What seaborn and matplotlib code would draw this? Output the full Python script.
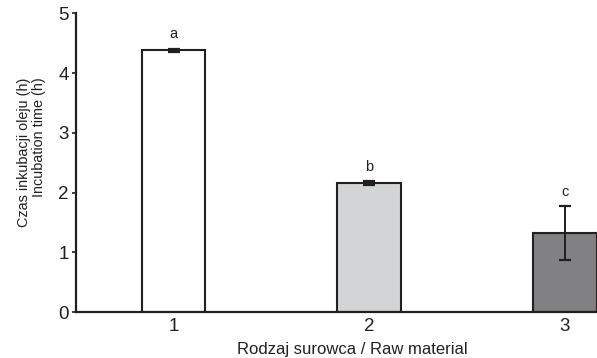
import matplotlib
matplotlib.use("Agg")
import matplotlib.pyplot as plt
import seaborn as sns
import pandas as pd

categories = ["1", "2", "3"]
means = [4.38, 2.16, 1.33]
errors = [0.03, 0.03, 0.45]
letters = ["a", "b", "c"]
colors = ["#ffffff", "#d3d4d6", "#808184"]
ylabel_lines = ["Czas inkubacji oleju (h)", "Incubation time (h)"]

sns.set_style("white")
plt.rcParams["font.family"] = ["Liberation Sans", "DejaVu Sans"]

df = pd.DataFrame({"cat": categories, "val": means})

fig = plt.figure(figsize=(5.97, 3.58), dpi=100)
ax = fig.add_axes([0.127, 0.128, 0.873, 0.835])
sns.barplot(data=df, x="cat", y="val", hue="cat", palette=colors, legend=False,
            width=0.325, edgecolor="#231f20", linewidth=1.5, errorbar=None, ax=ax)
ax.errorbar(range(len(categories)), means, yerr=errors, fmt="none", ecolor="#231f20",
            elinewidth=1.4, capsize=4.5, capthick=1.6)
for i, (m, e, l) in enumerate(zip(means, errors, letters)):
    ax.text(i, m + e + 0.12, l, ha="center", va="bottom", fontsize=10.5, color="#231f20")

ax.set_xlim(-0.5, 2.165)
ax.set_ylim(0, 5)
ax.set_yticks([0, 1, 2, 3, 4, 5])
ax.tick_params(axis="y", labelsize=13.5, length=3, width=1.2, direction="out", left=True, pad=2, colors="#231f20")
ax.tick_params(axis="x", labelsize=13.5, length=0, pad=4, colors="#231f20")
for s in ["top", "right"]:
    ax.spines[s].set_visible(False)
for s in ["left", "bottom"]:
    ax.spines[s].set_color("#231f20")
    ax.spines[s].set_linewidth(1.6)
ax.set_xlabel("Rodzaj surowca / Raw material", fontsize=12, color="#231f20", labelpad=5)
ax.xaxis.label.set_x(0.53)
ax.set_ylabel("")
fig.text(0.040, 0.574, ylabel_lines[0], rotation=90, ha="center", va="center",
         fontsize=10.4, color="#231f20")
fig.text(0.066, 0.616, ylabel_lines[1], rotation=90, ha="center", va="center",
         fontsize=10.4, color="#231f20")
fig.savefig("out.png", dpi=100)
